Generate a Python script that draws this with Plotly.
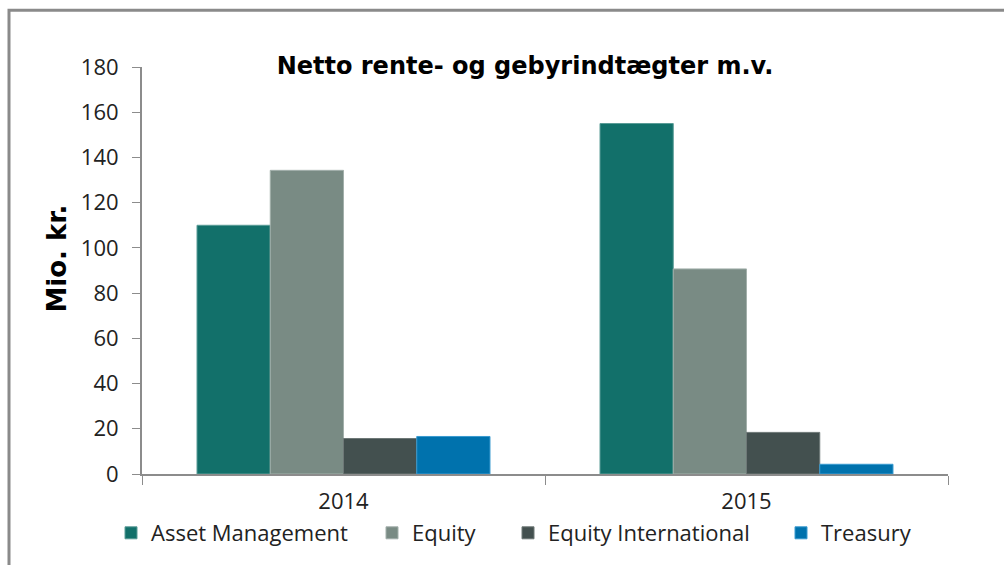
import plotly.graph_objects as go

years = ["2014", "2015"]
series_names = ["Asset Management", "Equity", "Equity International", "Treasury"]
asset_management = [110.0, 155.0]
equity = [134.3, 90.7]
equity_international = [15.7, 18.4]
treasury = [16.6, 4.3]
colors = ["#12706A", "#798B84", "#43504F", "#0072AD"]
edge_colors = ["#5A9C97", "#A3B0AB", "#6E7877", "#3A9BD0"]

values = [asset_management, equity, equity_international, treasury]

FONT = "Open Sans, sans-serif"
BOLD = "DejaVu Sans, sans-serif"

L, R, T, B = 142, 948, 67, 475
W, H = 1004, 565
pw, ph = R - L, B - T


def px(x):
    return (x - L) / pw


def py(y):
    return (B - y) / ph


legend_ids = ["legend", "legend2", "legend3", "legend4"]
legend_x = [111, 372, 508, 781]

fig = go.Figure()
for name, vals, c, ec, lid in zip(series_names, values, colors, edge_colors, legend_ids):
    fig.add_trace(go.Bar(x=years, y=vals, name=name, legend=lid,
                         marker=dict(color=c, line=dict(color=ec, width=1))))

legend_common = dict(orientation="h", y=py(533), xanchor="left", yanchor="middle",
                     font=dict(family=FONT, size=22, color="#222222"),
                     itemwidth=30, bgcolor="rgba(0,0,0,0)")
legends = {}
for lid, lx in zip(legend_ids, legend_x):
    legends[lid] = dict(legend_common, x=px(lx))

fig.update_layout(
    width=W, height=H,
    margin=dict(l=L, r=W - R, t=T, b=H - B, pad=0),
    paper_bgcolor="white", plot_bgcolor="white",
    barmode="group", bargap=0.273, bargroupgap=0,
    font=dict(family=FONT, size=22, color="#222222"),
    title=dict(text="<b>Netto rente- og gebyrindtægter m.v.</b>",
               x=px(525), xref="paper", xanchor="center",
               y=1 - 66 / H, yref="container", yanchor="middle",
               font=dict(family=BOLD, size=24, color="#000000")),
    showlegend=True,
    xaxis=dict(type="category", showline=True, linecolor="#8C8C8C", linewidth=2,
               ticks="outside", tickson="boundaries", ticklen=9, tickcolor="#8C8C8C",
               tickwidth=1, showgrid=False, tickfont=dict(size=22, color="#222222"),
               ticklabelstandoff=7, fixedrange=True),
    yaxis=dict(range=[0, 180], dtick=20, showline=True, linecolor="#8C8C8C", linewidth=2,
               ticks="outside", ticklen=8, tickcolor="#8C8C8C", tickwidth=1,
               showgrid=False, zeroline=False, tickfont=dict(size=22, color="#222222"),
               ticklabelstandoff=9, fixedrange=True),
    annotations=[dict(text="<b>Mio. kr.</b>", xref="paper", yref="paper",
                      x=px(57), y=py(259), xanchor="center", yanchor="middle",
                      textangle=-90, showarrow=False,
                      font=dict(family=BOLD, size=26, color="#000000"))],
    shapes=[dict(type="rect", xref="paper", yref="paper",
                 x0=px(9), x1=px(1012), y0=py(580), y1=py(10),
                 line=dict(color="#8A8A8A", width=3), fillcolor="rgba(0,0,0,0)", layer="below")],
    **legends,
)

fig.write_html("out.html")
